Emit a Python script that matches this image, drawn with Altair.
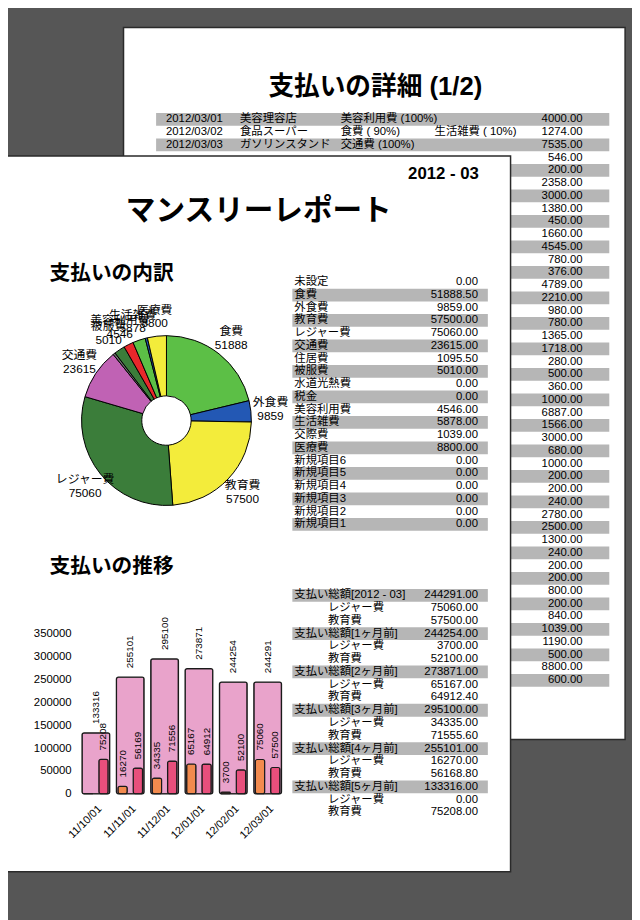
import altair as alt
import pandas as pd

FONT = "Liberation Sans, 'Noto Sans CJK JP', sans-serif"

# ---------------- back page (detail list) ----------------
detail_title = "支払いの詳細 (1/2)"
detail_dates = ["2012/03/01", "2012/03/02", "2012/03/03"]
detail_shops = ["美容理容店", "食品スーパー", "ガソリンスタンド"]
detail_cat1 = ["美容利用費 (100%)", "食費 ( 90%)", "交通費 (100%)"]
detail_cat2 = ["", "生活雑費 ( 10%)", ""]
detail_amounts = [4000, 1274, 7535, 546, 200, 2358, 3000, 1380, 450, 1660,
                  4545, 780, 376, 4789, 2210, 980, 780, 1365, 1718, 280,
                  500, 360, 1000, 6887, 1566, 3000, 680, 1000, 200, 200,
                  240, 2780, 2500, 1300, 240, 200, 200, 800, 200, 840,
                  1039, 1190, 500, 8800, 600]

# ---------------- front page ----------------
report_title = "マンスリーレポート"
report_month = "2012 - 03"
pie_title = "支払いの内訳"
trend_title = "支払いの推移"

cat_names = ["未設定", "食費", "外食費", "教育費", "レジャー費", "交通費", "住居費", "被服費",
             "水道光熱費", "税金", "美容利用費", "生活雑費", "交際費", "医療費",
             "新規項目6", "新規項目5", "新規項目4", "新規項目3", "新規項目2", "新規項目1"]
cat_values = [0, 51888.5, 9859, 57500, 75060, 23615, 1095.5, 5010,
              0, 0, 4546, 5878, 1039, 8800, 0, 0, 0, 0, 0, 0]

months = ["11/10/01", "11/11/01", "11/12/01", "12/01/01", "12/02/01", "12/03/01"]
totals = [133316, 255101, 295100, 273871, 244254, 244291]
leisure = [0, 16270, 34335, 65167, 3700, 75060]
education = [75208, 56168.8, 71555.6, 64912.4, 52100, 57500]
period_labels = ["支払い総額[5ヶ月前]", "支払い総額[4ヶ月前]", "支払い総額[3ヶ月前]",
                 "支払い総額[2ヶ月前]", "支払い総額[1ヶ月前]", "支払い総額[2012 - 03]"]
series_names = ["レジャー費", "教育費"]
y_ticks = [0, 50000, 100000, 150000, 200000, 250000, 300000, 350000]

# styles
pie_colors = {"食費": "#5cbf46", "外食費": "#2358b4", "教育費": "#f3ec3b", "レジャー費": "#3b7d3a",
              "交通費": "#c062b4", "住居費": "#6d6d6d", "被服費": "#3b7d3a", "美容利用費": "#e8282b",
              "生活雑費": "#5cbf46", "交際費": "#2358b4", "医療費": "#f3ec3b"}
STRIPE = "#b6b6b6"

one = pd.DataFrame({"k": [0]})


def label(txt, x, y, size, weight="normal", align="left"):
    return alt.Chart(one).mark_text(text=txt, font=FONT, fontSize=size, fontWeight=weight,
                                    align=align, baseline="middle", color="black").encode(
        x=alt.value(x), y=alt.value(y))


def page(x, x2, y, y2):
    return alt.Chart(one).mark_rect(fill="white", stroke="#2a2a2a", strokeWidth=1.5).encode(
        x=alt.value(x), x2=alt.value(x2), y=alt.value(y), y2=alt.value(y2))


def rows_scale(n, top, bottom):
    return alt.Scale(type="band", domain=list(range(n)), range=[top, bottom],
                     paddingInner=0, paddingOuter=0)


layers = []

# back page
layers.append(page(117, 625, 14, 735))
layers.append(label(detail_title, 372, 74, 26, "bold", "center"))
n_back = len(detail_amounts)
back_df = pd.DataFrame({
    "row": list(range(n_back)),
    "amount": detail_amounts,
    "date": detail_dates + [""] * (n_back - 3),
    "shop": detail_shops + [""] * (n_back - 3),
    "c1": detail_cat1 + [""] * (n_back - 3),
    "c2": detail_cat2 + [""] * (n_back - 3),
})
bs = rows_scale(n_back, 100.5, 681.5)
layers.append(alt.Chart(back_df).transform_filter("datum.row % 2 == 0").mark_rect(fill=STRIPE).encode(
    y=alt.Y("row:O", scale=bs, axis=None), x=alt.value(150), x2=alt.value(609)))
for col, xpos in [("date", 160), ("shop", 235), ("c1", 337), ("c2", 432)]:
    layers.append(alt.Chart(back_df).mark_text(align="left", baseline="middle", font=FONT,
                                               fontSize=11.5, color="black").encode(
        y=alt.Y("row:O", scale=bs, axis=None), x=alt.value(xpos), text=f"{col}:N"))
layers.append(alt.Chart(back_df).mark_text(align="right", baseline="middle", font=FONT,
                                           fontSize=11.5, color="black").encode(
    y=alt.Y("row:O", scale=bs, axis=None), x=alt.value(582),
    text=alt.Text("amount:Q", format=".2f")))

# front page
layers.append(page(-2, 509, 144, 869))
layers.append(label(report_month, 477, 162, 17, "bold", "right"))
layers.append(label(report_title, 254, 200, 30, "bold", "center"))
layers.append(label(pie_title, 42, 264, 21, "bold"))
layers.append(label(trend_title, 42, 560, 21, "bold"))

# pie
pie_df = pd.DataFrame({"name": cat_names, "value": cat_values, "idx": list(range(len(cat_names)))})
pie_df = pie_df[pie_df["value"] > 0]
pie_domain = list(pie_df["name"])
PX, PY = 160.5, 412
layers.append(alt.Chart(pie_df).mark_arc(innerRadius=25, outerRadius=86, stroke="black",
                                         strokeWidth=1).encode(
    theta=alt.Theta("value:Q", stack=True),
    order=alt.Order("idx:Q"),
    color=alt.Color("name:N", scale=alt.Scale(domain=pie_domain,
                                              range=[pie_colors[n] for n in pie_domain]),
                    legend=None),
    x=alt.value(PX), y=alt.value(PY)))
layers.append(alt.Chart(pie_df).transform_calculate(
    lbl="datum.value >= 2000 ? datum.name + '\\n' + floor(datum.value) : ''").mark_text(
    radius=106, lineBreak="\n", font=FONT, fontSize=12, lineHeight=14, color="black",
    align="center", baseline="middle", dy=-7).encode(
    theta=alt.Theta("value:Q", stack=True), order=alt.Order("idx:Q"),
    text="lbl:N", x=alt.value(PX), y=alt.value(PY)))

# category table
cat_df = pd.DataFrame({"row": list(range(len(cat_names))), "name": cat_names, "value": cat_values})
cs = rows_scale(len(cat_names), 265.5, 523.5)
layers.append(alt.Chart(cat_df).transform_filter("datum.row % 2 == 1").mark_rect(fill=STRIPE).encode(
    y=alt.Y("row:O", scale=cs, axis=None), x=alt.value(288), x2=alt.value(486)))
layers.append(alt.Chart(cat_df).mark_text(align="left", baseline="middle", font=FONT,
                                          fontSize=11.5, color="black").encode(
    y=alt.Y("row:O", scale=cs, axis=None), x=alt.value(290), text="name:N"))
layers.append(alt.Chart(cat_df).mark_text(align="right", baseline="middle", font=FONT,
                                          fontSize=11.5, color="black").encode(
    y=alt.Y("row:O", scale=cs, axis=None), x=alt.value(476),
    text=alt.Text("value:Q", format=".2f")))

# trend table
trows = []
for i in reversed(range(len(months))):
    trows.append({"name": period_labels[i], "value": totals[i], "head": 1})
    trows.append({"name": series_names[0], "value": leisure[i], "head": 0})
    trows.append({"name": series_names[1], "value": education[i], "head": 0})
trend_df = pd.DataFrame(trows)
trend_df["row"] = list(range(len(trend_df)))
ts = rows_scale(len(trend_df), 582.5, 815.4)
layers.append(alt.Chart(trend_df).transform_filter("datum.head == 1").mark_rect(fill=STRIPE).encode(
    y=alt.Y("row:O", scale=ts, axis=None), x=alt.value(288), x2=alt.value(486)))
layers.append(alt.Chart(trend_df).transform_filter("datum.head == 1").mark_text(
    align="left", baseline="middle", font=FONT, fontSize=11.5, color="black").encode(
    y=alt.Y("row:O", scale=ts, axis=None), x=alt.value(290), text="name:N"))
layers.append(alt.Chart(trend_df).transform_filter("datum.head == 0").mark_text(
    align="left", baseline="middle", font=FONT, fontSize=11.5, color="black").encode(
    y=alt.Y("row:O", scale=ts, axis=None), x=alt.value(324), text="name:N"))
layers.append(alt.Chart(trend_df).mark_text(align="right", baseline="middle", font=FONT,
                                            fontSize=11.5, color="black").encode(
    y=alt.Y("row:O", scale=ts, axis=None), x=alt.value(476),
    text=alt.Text("value:Q", format=".2f")))

# bar chart
bar_df = pd.DataFrame({"month": months, "total": totals})
small_rows = []
for m, a, b in zip(months, leisure, education):
    small_rows.append({"month": m, "series": series_names[0], "value": a})
    small_rows.append({"month": m, "series": series_names[1], "value": b})
small_df = pd.DataFrame(small_rows)

xs = alt.Scale(domain=months, range=[71.6, 280.4], paddingInner=0.195, paddingOuter=0.0977)
ys = alt.Scale(domain=[0, 350000], range=[790, 628], nice=False, zero=True)
xo = alt.Scale(domain=series_names, paddingInner=0.39, paddingOuter=0.1)

layers.append(alt.Chart(bar_df).mark_bar(color="#e9a3cb", stroke="#1a1a1a", strokeWidth=1.3,
                                         cornerRadius=2).encode(
    x=alt.X("month:N", scale=xs, sort=months,
            axis=alt.Axis(title=None, domain=False, ticks=False, tickSize=0, labelAngle=-45,
                          labelAlign="right", labelBaseline="top", labelPadding=9,
                          offset=-122, labelFontSize=11, labelColor="black", labelFont=FONT,
                          zindex=2)),
    y=alt.Y("total:Q", scale=ys,
            axis=alt.Axis(title=None, values=y_ticks, format="d", domain=False, ticks=False,
                          tickSize=0, grid=False, labelPadding=1, offset=-65,
                          labelFontSize=11.5, labelColor="black", labelFont=FONT, zindex=2))))
layers.append(alt.Chart(small_df).mark_bar(stroke="#1a1a1a", strokeWidth=1.2, cornerRadius=2).encode(
    x=alt.X("month:N", scale=xs, sort=months, axis=None),
    xOffset=alt.XOffset("series:N", scale=xo, sort=series_names),
    y=alt.Y("value:Q", scale=ys, axis=None),
    color=alt.Color("series:N", scale=alt.Scale(domain=series_names, range=["#f28a4e", "#e84f7c"]),
                    legend=None)))
layers.append(alt.Chart(bar_df).mark_text(angle=270, align="left", baseline="middle", dx=9,
                                          font=FONT, fontSize=10, color="black").encode(
    x=alt.X("month:N", scale=xs, sort=months, axis=None),
    y=alt.Y("total:Q", scale=ys, axis=None),
    text=alt.Text("total:Q", format="d")))
layers.append(alt.Chart(small_df).transform_filter("datum.value > 0").mark_text(
    angle=270, align="left", baseline="middle", dx=9, font=FONT, fontSize=10, color="black").encode(
    x=alt.X("month:N", scale=xs, sort=months, axis=None),
    xOffset=alt.XOffset("series:N", scale=xo, sort=series_names),
    y=alt.Y("value:Q", scale=ys, axis=None),
    text=alt.Text("value:Q", format=".0f")))

chart = alt.layer(*layers).properties(
    width=632, height=912, autosize=alt.AutoSizeParams(type="none"), padding=0
).resolve_scale(x="independent", y="independent", color="independent").configure(
    background="#565656"
).configure_view(strokeWidth=0)

chart.save("out.html", embed_options={"renderer": "svg", "actions": False})
